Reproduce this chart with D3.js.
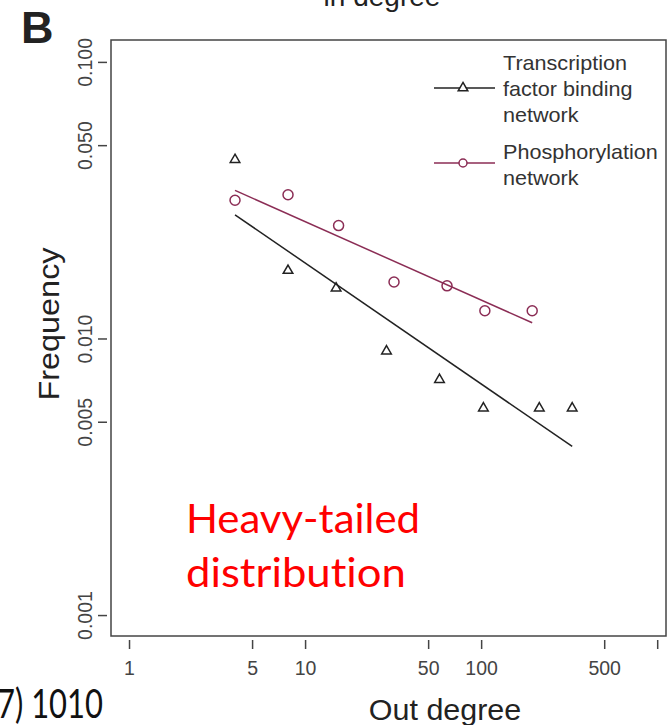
<!DOCTYPE html>
<html>
<head>
<meta charset="utf-8">
<script src="https://cdn.jsdelivr.net/npm/d3@7"></script>
<style>
  body { margin: 0; background: #fff; }
  svg { display: block; font-family: "Liberation Sans", Arial, sans-serif; }
  text { font-variant-ligatures: none; }
</style>
</head>
<body>
<svg id="chart" width="671" height="725"></svg>
<script>
// out degree vs frequency
var tfDegree   = [4, 8, 15, 29, 58, 103, 214, 329];
var tfFreq     = [0.0443, 0.0176, 0.0152, 0.0090, 0.0071, 0.0056, 0.0056, 0.0056];
var phosDegree = [4, 8, 15.5, 32, 64, 105, 195];
var phosFreq   = [0.0316, 0.0331, 0.0256, 0.0160, 0.0155, 0.0126, 0.0126];

// fitted power-law lines (endpoints)
var tfFitDegree   = [4, 329];
var tfFitFreq     = [0.0280, 0.00407];
var phosFitDegree = [4, 195];
var phosFitFreq   = [0.0343, 0.0114];

var xTicks = [1, 5, 10, 50, 100, 500, 1000];
var xTickLabels = ["1", "5", "10", "50", "100", "500", ""];
var yTicks = [0.001, 0.005, 0.010, 0.050, 0.100];
var yTickLabels = ["0.001", "0.005", "0.010", "0.050", "0.100"];

var tfColor = "#222222", phosColor = "#8b2d55";

var svg = d3.select("#chart");
var box = {left: 111, right: 666, top: 40, bottom: 636};

var x = d3.scaleLog().domain([0.79, 1122]).range([box.left, box.right]);
var y = d3.scaleLog().domain([0.00084, 0.12]).range([box.bottom, box.top]);

// title cut off at top
svg.append("text").attr("x", 382).attr("y", 6).attr("text-anchor", "middle")
  .attr("font-size", 28).attr("fill", "#222").text("in degree");

svg.append("text").attr("x", 21).attr("y", 43)
  .attr("font-size", 45).attr("font-weight", "bold").attr("fill", "#222").text("B");

// plot frame
svg.append("rect")
  .attr("x", box.left).attr("y", box.top)
  .attr("width", box.right - box.left).attr("height", box.bottom - box.top)
  .attr("fill", "none").attr("stroke", "#444").attr("stroke-width", 1.5);

// x axis
var xAxis = d3.axisBottom(x).tickValues(xTicks)
  .tickFormat(function(d, i) { return xTickLabels[i]; })
  .tickSize(9).tickPadding(12);
var gx = svg.append("g").attr("transform", "translate(0," + (box.bottom + 4) + ")").call(xAxis);
gx.select(".domain").remove();
gx.selectAll("line").attr("stroke", "#444").attr("stroke-width", 1.5);
gx.selectAll("text").attr("font-size", 19.5).attr("fill", "#444")
  .attr("font-family", "'Liberation Sans', Arial, sans-serif");

// y axis, labels rotated as in R
var yAxis = d3.axisLeft(y).tickValues(yTicks)
  .tickFormat(function(d, i) { return yTickLabels[i]; })
  .tickSize(9);
var gy = svg.append("g").attr("transform", "translate(" + (box.left - 4) + ",0)").call(yAxis);
gy.select(".domain").remove();
gy.selectAll("line").attr("stroke", "#444").attr("stroke-width", 1.5);
gy.selectAll("text").attr("font-size", 19.5).attr("fill", "#444")
  .attr("font-family", "'Liberation Sans', Arial, sans-serif")
  .attr("x", null).attr("dy", null)
  .attr("text-anchor", "middle")
  .attr("transform", "translate(-15,0) rotate(-90)");

// axis titles
svg.append("text").attr("transform", "translate(59,324) rotate(-90) scale(1.08,1)")
  .attr("text-anchor", "middle").attr("font-size", 30).attr("fill", "#222").text("Frequency");
svg.append("text").attr("transform", "translate(445,720) scale(1.05,1)")
  .attr("text-anchor", "middle").attr("font-size", 29).attr("fill", "#222").text("Out degree");

// fit lines
var line = d3.line().x(function(d) { return x(d[0]); }).y(function(d) { return y(d[1]); });
svg.append("path").datum(d3.zip(tfFitDegree, tfFitFreq)).attr("d", line)
  .attr("fill", "none").attr("stroke", tfColor).attr("stroke-width", 1.5);
svg.append("path").datum(d3.zip(phosFitDegree, phosFitFreq)).attr("d", line)
  .attr("fill", "none").attr("stroke", phosColor).attr("stroke-width", 1.5);

// markers
var tri = d3.symbol().type(d3.symbolTriangle).size(40);
svg.append("g").selectAll("path").data(d3.zip(tfDegree, tfFreq)).enter().append("path")
  .attr("d", tri)
  .attr("transform", function(d) { return "translate(" + x(d[0]) + "," + y(d[1]) + ")"; })
  .attr("fill", "none").attr("stroke", tfColor).attr("stroke-width", 1.5);
svg.append("g").selectAll("circle").data(d3.zip(phosDegree, phosFreq)).enter().append("circle")
  .attr("cx", function(d) { return x(d[0]); })
  .attr("cy", function(d) { return y(d[1]); })
  .attr("r", 5)
  .attr("fill", "none").attr("stroke", phosColor).attr("stroke-width", 1.5);

// legend
var legend = svg.append("g");
legend.append("line").attr("x1", 434).attr("x2", 495).attr("y1", 88).attr("y2", 88)
  .attr("stroke", tfColor).attr("stroke-width", 1.5);
legend.append("path").attr("d", tri).attr("transform", "translate(463,88)")
  .attr("fill", "#fff").attr("stroke", tfColor).attr("stroke-width", 1.5);
legend.append("line").attr("x1", 434).attr("x2", 495).attr("y1", 163).attr("y2", 163)
  .attr("stroke", phosColor).attr("stroke-width", 1.5);
legend.append("circle").attr("cx", 463).attr("cy", 163).attr("r", 4)
  .attr("fill", "#fff").attr("stroke", phosColor).attr("stroke-width", 1.5);

var legendLines = [["Transcription", 70], ["factor binding", 96], ["network", 122],
                   ["Phosphorylation", 159], ["network", 185]];
legend.selectAll("text.lg").data(legendLines).enter().append("text")
  .attr("transform", function(d) { return "translate(503," + d[1] + ") scale(1.08,1)"; })
  .attr("font-size", 20).attr("fill", "#333").text(function(d) { return d[0]; });

// annotation
svg.append("text").attr("x", 186).attr("y", 533)
  .attr("font-family", "Lato, 'Open Sans', sans-serif")
  .attr("font-size", 40).attr("fill", "#ff0000")
  .attr("textLength", 234).attr("lengthAdjust", "spacingAndGlyphs").text("Heavy-tailed");
svg.append("text").attr("x", 186).attr("y", 587)
  .attr("font-family", "Lato, 'Open Sans', sans-serif")
  .attr("font-size", 40).attr("fill", "#ff0000")
  .attr("textLength", 220).attr("lengthAdjust", "spacingAndGlyphs").text("distribution");

// fragment of neighbouring citation
svg.append("text").attr("x", -3).attr("y", 718)
  .attr("font-family", "Lato, 'Open Sans', sans-serif")
  .attr("font-size", 40).attr("fill", "#111")
  .attr("textLength", 106).attr("lengthAdjust", "spacingAndGlyphs").text("7) 1010");
</script>
</body>
</html>
